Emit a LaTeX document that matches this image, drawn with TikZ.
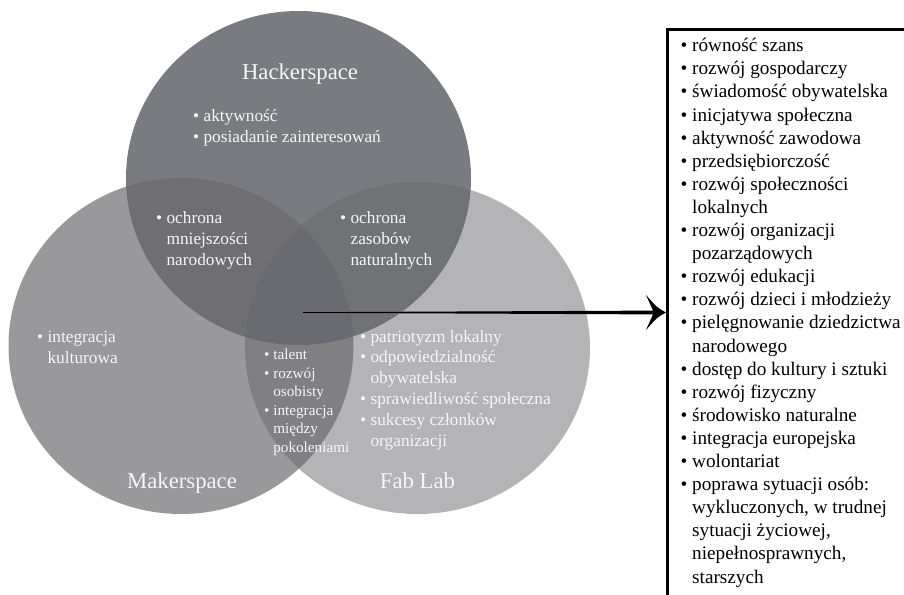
\documentclass[tikz,border=0pt]{standalone}
\usepackage{fontspec}
\setmainfont{Liberation Serif}
\usetikzlibrary{calc}
\definecolor{hackgray}{RGB}{104,105,110}
\definecolor{makergray}{RGB}{104,104,108}
\definecolor{fabgray}{RGB}{180,180,182}
\definecolor{vennwhite}{RGB}{246,246,246}
\newcommand{\wrapgap}{\phantom{•\ }}
\tikzset{
	venntitle/.style={text=vennwhite, font=\fontsize{22.7}{27}\selectfont, anchor=base, inner sep=0pt},
	venntext/.style={text=vennwhite, font=\fontsize{17.3}{20.8}\selectfont, align=left, anchor=base west, inner sep=0pt},
	vennsmall/.style={venntext, font=\fontsize{15.2}{18.5}\selectfont},
	boxtext/.style={font=\fontsize{19.2}{23.1}\selectfont, align=left, anchor=base west, inner sep=0pt},
}

\begin{document}
\begin{tikzpicture}[x=1pt, y=-1pt]
		%%%%% START %%%%%
		\useasboundingbox (0, 0) rectangle (904, 594);
		
		\coordinate (fab) at (417.5, 348);
		\coordinate (maker) at (181, 346);
		\coordinate (hack) at (298.5, 178);
		
		\fill[fabgray] (fab) ellipse [x radius=172.5pt, y radius=166pt];
		\fill[makergray, fill opacity=0.68] (maker) ellipse [x radius=172.5pt, y radius=168pt];
		\fill[hackgray, fill opacity=0.88] (hack) ellipse [x radius=172.5pt, y radius=167pt];
		
		\node[venntitle] (hacktitle) at (300, 79.5) {Hackerspace};
		\node[venntitle] (makertitle) at (182, 488) {Makerspace};
		\node[venntitle] (fabtitle) at (417.5, 488) {Fab Lab};
		
		% base = last line
		\node[venntext] (hackonly) at (193, 142) {• aktywność\\• posiadanie zainteresowań};
		\node[venntext] (hackmaker) at (156, 265) {• ochrona\\\wrapgap mniejszości\\\wrapgap narodowych};
		\node[venntext] (hackfab) at (340, 265) {• ochrona\\\wrapgap zasobów\\\wrapgap naturalnych};
		\node[venntext] (makeronly) at (37, 363) {• integracja\\\wrapgap kulturowa};
		\node[vennsmall] (allthree) at (264, 452) {• talent\\• rozwój\\\wrapgap osobisty\\• integracja\\\wrapgap między\\\wrapgap pokoleniami};
		\node[venntext] (fabonly) at (360, 446) {• patriotyzm lokalny\\• odpowiedzialność\\\wrapgap obywatelska\\• sprawiedliwość społeczna\\• sukcesy członków\\\wrapgap organizacji};
		
		\node[draw, line width=3pt, anchor=north west, minimum width=300pt, minimum height=600pt] (effects) at (666, 28) {};
		\node[boxtext] (effectlist) at (680.5, 583) {• równość szans\\• rozwój gospodarczy\\• świadomość obywatelska\\• inicjatywa społeczna\\• aktywność zawodowa\\• przedsiębiorczość\\• rozwój społeczności\\\wrapgap lokalnych\\• rozwój organizacji\\\wrapgap pozarządowych\\• rozwój edukacji\\• rozwój dzieci i młodzieży\\• pielęgnowanie dziedzictwa\\\wrapgap narodowego\\• dostęp do kultury i sztuki\\• rozwój fizyczny\\• środowisko naturalne\\• integracja europejska\\• wolontariat\\• poprawa sytuacji osób:\\\wrapgap wykluczonych, w trudnej\\\wrapgap sytuacji życiowej,\\\wrapgap niepełnosprawnych,\\\wrapgap starszych};
		
		\coordinate (arrowstart) at (303, 312.5);
		\coordinate (arrowtip) at (effects.west |- arrowstart);
		\fill ($(arrowstart)+(0,-0.3)$) -- ($(arrowtip)+(-13,-1.9)$) -- ($(arrowtip)+(-20,-17.5)$) .. controls ($(arrowtip)+(-9,-5)$) .. (arrowtip) .. controls ($(arrowtip)+(-9,5)$) .. ($(arrowtip)+(-20,17.5)$) -- ($(arrowtip)+(-13,1.9)$) -- ($(arrowstart)+(0,0.3)$) -- cycle;
		
		%%%%% END %%%%%
	\end{tikzpicture}
\end{document}
